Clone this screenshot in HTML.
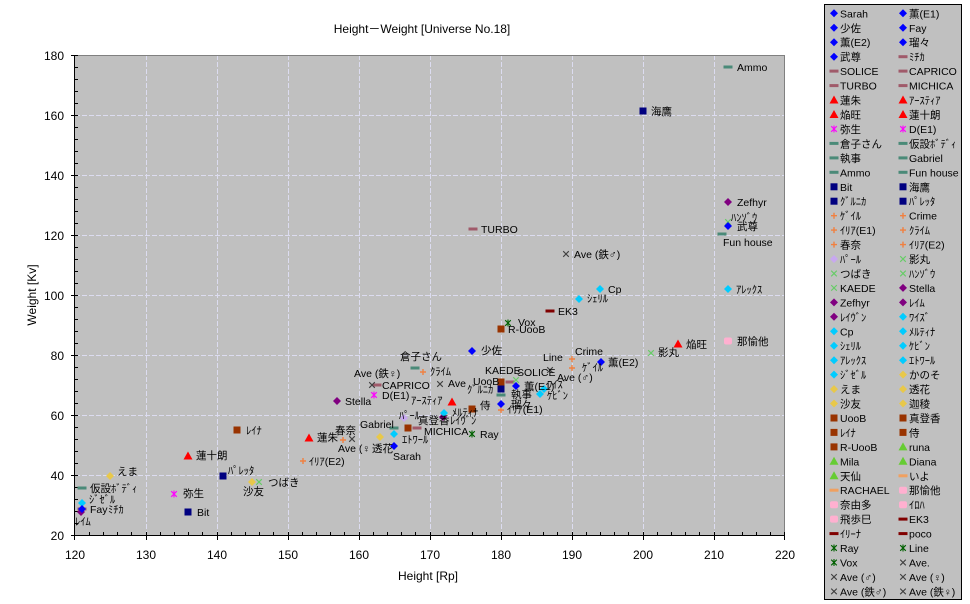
<!DOCTYPE html>
<html><head><meta charset="utf-8">
<style>
html,body{margin:0;padding:0;background:#fff;}
svg{display:block;}
text{font-family:"Liberation Sans","Noto Sans CJK JP",sans-serif;fill:#000;}
.l{font-size:10.5px;}
.g{font-size:10.5px;}
.tk{font-size:12px;}
</style></head><body>
<svg width="970" height="604" viewBox="0 0 970 604" xmlns="http://www.w3.org/2000/svg">
<defs>
<path id="d" d="M0,-4L4,0L0,4L-4,0Z"/>
<rect id="s" x="-3.5" y="-3.5" width="7" height="7"/>
<path id="t" d="M0,-4.5L4.5,3.5L-4.5,3.5Z"/>
<rect id="h" x="-4.5" y="-1.5" width="9" height="3"/>
<path id="p" d="M-3,0H3M0,-3V3" fill="none" stroke-width="1.4"/>
<path id="x" d="M-2.8,-2.8L2.8,2.8M-2.8,2.8L2.8,-2.8" fill="none" stroke-width="1.1"/>
<path id="a" d="M-2.8,-2.8L2.8,2.8M-2.8,2.8L2.8,-2.8M0,-3.5V3.5" fill="none" stroke-width="1.1"/>
<rect id="k" x="-4" y="-3.5" width="8" height="7" rx="2"/>
</defs>
<rect width="970" height="604" fill="#fff"/>
<rect x="75" y="55" width="710" height="480" fill="#c0c0c0"/>
<g stroke="#dcdcf0" stroke-width="1" stroke-dasharray="5,2">
<line x1="146.5" y1="55" x2="146.5" y2="535"/>
<line x1="217.5" y1="55" x2="217.5" y2="535"/>
<line x1="288.5" y1="55" x2="288.5" y2="535"/>
<line x1="359.5" y1="55" x2="359.5" y2="535"/>
<line x1="430.5" y1="55" x2="430.5" y2="535"/>
<line x1="501.5" y1="55" x2="501.5" y2="535"/>
<line x1="572.5" y1="55" x2="572.5" y2="535"/>
<line x1="643.5" y1="55" x2="643.5" y2="535"/>
<line x1="714.5" y1="55" x2="714.5" y2="535"/>
<line x1="75" y1="115.5" x2="785" y2="115.5"/>
<line x1="75" y1="175.5" x2="785" y2="175.5"/>
<line x1="75" y1="235.5" x2="785" y2="235.5"/>
<line x1="75" y1="295.5" x2="785" y2="295.5"/>
<line x1="75" y1="355.5" x2="785" y2="355.5"/>
<line x1="75" y1="415.5" x2="785" y2="415.5"/>
<line x1="75" y1="475.5" x2="785" y2="475.5"/>
</g>
<line x1="75" y1="55.5" x2="785" y2="55.5" stroke="#808080"/>
<line x1="784.5" y1="55" x2="784.5" y2="535" stroke="#808080"/>
<line x1="74.5" y1="55" x2="74.5" y2="536" stroke="#000"/>
<line x1="74" y1="535.5" x2="785" y2="535.5" stroke="#000"/>
<g stroke="#000" stroke-width="1">
<path d="M71,55.5H78M71,115.5H78M71,175.5H78M71,235.5H78M71,295.5H78M71,355.5H78M71,415.5H78M71,475.5H78M71,535.5H78"/>
<path d="M75,67.5H78M75,79.5H78M75,91.5H78M75,103.5H78M75,127.5H78M75,139.5H78M75,151.5H78M75,163.5H78M75,187.5H78M75,199.5H78M75,211.5H78M75,223.5H78M75,247.5H78M75,259.5H78M75,271.5H78M75,283.5H78M75,307.5H78M75,319.5H78M75,331.5H78M75,343.5H78M75,367.5H78M75,379.5H78M75,391.5H78M75,403.5H78M75,427.5H78M75,439.5H78M75,451.5H78M75,463.5H78M75,487.5H78M75,499.5H78M75,511.5H78M75,523.5H78"/>
<path d="M74.5,532V540M146.5,532V540M217.5,532V540M288.5,532V540M359.5,532V540M430.5,532V540M501.5,532V540M572.5,532V540M643.5,532V540M714.5,532V540M784.5,532V540"/>
<path d="M89.5,532V535M103.5,532V535M117.5,532V535M131.5,532V535M160.5,532V535M174.5,532V535M188.5,532V535M202.5,532V535M231.5,532V535M245.5,532V535M259.5,532V535M273.5,532V535M302.5,532V535M316.5,532V535M330.5,532V535M344.5,532V535M373.5,532V535M387.5,532V535M401.5,532V535M415.5,532V535M444.5,532V535M458.5,532V535M472.5,532V535M486.5,532V535M515.5,532V535M529.5,532V535M543.5,532V535M557.5,532V535M586.5,532V535M600.5,532V535M614.5,532V535M628.5,532V535M657.5,532V535M671.5,532V535M685.5,532V535M699.5,532V535M728.5,532V535M742.5,532V535M756.5,532V535M770.5,532V535"/>
</g>
<g class="tk" text-anchor="end">
<text x="64" y="60">180</text><text x="64" y="120">160</text><text x="64" y="180">140</text><text x="64" y="240">120</text><text x="64" y="300">100</text><text x="64" y="360">80</text><text x="64" y="420">60</text><text x="64" y="480">40</text><text x="64" y="540">20</text>
</g>
<g class="tk" text-anchor="middle">
<text x="75" y="559">120</text><text x="146" y="559">130</text><text x="217" y="559">140</text><text x="288" y="559">150</text><text x="359" y="559">160</text><text x="430" y="559">170</text><text x="501" y="559">180</text><text x="572" y="559">190</text><text x="643" y="559">200</text><text x="714" y="559">210</text><text x="785" y="559">220</text>
</g>
<text x="422" y="33" font-size="12" text-anchor="middle">Height－Weight [Universe No.18]</text>
<text x="428" y="580" font-size="12" text-anchor="middle">Height [Rp]</text>
<text transform="translate(36,295) rotate(-90)" font-size="12" text-anchor="middle">Weight [Kv]</text>

<g fill="#a05a6a"><use href="#h" x="82" y="509"/><use href="#h" x="510" y="382"/><use href="#h" x="377" y="385"/><use href="#h" x="473" y="229"/><use href="#h" x="417" y="428"/></g>
<g fill="#4a8a78"><use href="#h" x="415" y="368"/><use href="#h" x="82" y="488"/><use href="#h" x="501" y="395"/><use href="#h" x="394" y="428"/><use href="#h" x="728" y="67"/><use href="#h" x="722" y="234"/></g>
<g fill="#800000"><use href="#h" x="550" y="311"/></g>
<g fill="#ffb0d0"><use href="#k" x="728" y="341"/></g>
<g fill="#000080"><use href="#s" x="188" y="512"/><use href="#s" x="643" y="111"/><use href="#s" x="501" y="389"/><use href="#s" x="223" y="476"/></g>
<g fill="#993300"><use href="#s" x="501" y="382"/><use href="#s" x="408" y="428"/><use href="#s" x="237" y="430"/><use href="#s" x="472" y="409"/><use href="#s" x="501" y="329"/></g>
<g fill="#ff0000"><use href="#t" x="309" y="438"/><use href="#t" x="452" y="402"/><use href="#t" x="678" y="344"/><use href="#t" x="188" y="456"/></g>
<g stroke="#f08040"><use href="#p" x="572" y="368"/><use href="#p" x="572" y="359"/><use href="#p" x="501" y="410"/><use href="#p" x="423" y="372"/><use href="#p" x="343" y="440"/><use href="#p" x="303" y="461"/></g>
<g stroke="#ff00ff"><use href="#a" x="174" y="494"/><use href="#a" x="374" y="395"/></g>
<g stroke="#006000"><use href="#a" x="472" y="434"/><use href="#a" x="508" y="323"/></g>
<g stroke="#66cc66"><use href="#x" x="651" y="353"/><use href="#x" x="259" y="482"/><use href="#x" x="728" y="222"/><use href="#x" x="516" y="380"/></g>
<g stroke="#404040"><use href="#x" x="440" y="384"/><use href="#x" x="550" y="370"/><use href="#x" x="352" y="439"/><use href="#x" x="566" y="254"/><use href="#x" x="372" y="385"/></g>
<g fill="#e8c84a"><use href="#d" x="110" y="476"/><use href="#d" x="380" y="437"/><use href="#d" x="252" y="482"/></g>
<g fill="#c8a8f0"><use href="#d" x="404" y="418"/></g>
<g fill="#800080"><use href="#d" x="337" y="401"/><use href="#d" x="728" y="202"/><use href="#d" x="81" y="512"/><use href="#d" x="443" y="417"/></g>
<g fill="#00ccff"><use href="#d" x="544" y="389"/><use href="#d" x="600" y="289"/><use href="#d" x="444" y="413"/><use href="#d" x="579" y="299"/><use href="#d" x="540" y="394"/><use href="#d" x="728" y="289"/><use href="#d" x="394" y="434"/><use href="#d" x="82" y="503"/></g>
<g fill="#0000ff"><use href="#d" x="394" y="446"/><use href="#d" x="516" y="386"/><use href="#d" x="472" y="351"/><use href="#d" x="82" y="509"/><use href="#d" x="601" y="362"/><use href="#d" x="501" y="404"/><use href="#d" x="728" y="226"/></g>

<g class="g">
<text x="737" y="71">Ammo</text>
<text x="651" y="115">海鷹</text>
<text x="737" y="206">Zefhyr</text>
<text x="731" y="221">ﾊﾝｿﾞｳ</text>
<text x="737" y="230">武尊</text>
<text x="481" y="233">TURBO</text>
<text x="723" y="246">Fun house</text>
<text x="574" y="258">Ave (鉄♂)</text>
<text x="608" y="293">Cp</text>
<text x="736" y="293">ｱﾚｯｸｽ</text>
<text x="587" y="302">ｼｪﾘﾙ</text>
<text x="558" y="315">EK3</text>
<text x="518" y="326">Vox</text>
<text x="508" y="333">R-UooB</text>
<text x="737" y="345">那愉他</text>
<text x="686" y="348">焔旺</text>
<text x="481" y="354">少佐</text>
<text x="658" y="356">影丸</text>
<text x="543" y="361">Line</text>
<text x="575" y="355">Crime</text>
<text x="400" y="360">倉子さん</text>
<text x="608" y="366">薫(E2)</text>
<text x="582" y="371">ｹﾞｲﾙ</text>
<text x="485" y="374">KAEDE</text>
<text x="517" y="376">SOLICE</text>
<text x="430" y="375">ｸﾗｲﾑ</text>
<text x="354" y="377">Ave (鉄♀)</text>
<text x="557" y="381">Ave (♂)</text>
<text x="473" y="385">UooB</text>
<text x="448" y="387">Ave</text>
<text x="382" y="389">CAPRICO</text>
<text x="524" y="390">薫(E1)</text>
<text x="547" y="388">ﾜｲｽﾞ</text>
<text x="467" y="393">ｸﾞﾙﾆｶ</text>
<text x="382" y="399">D(E1)</text>
<text x="511" y="398">執事</text>
<text x="547" y="399">ｹﾋﾞﾝ</text>
<text x="345" y="405">Stella</text>
<text x="411" y="404">ｱｰｽﾃｨｱ</text>
<text x="511" y="408">瑠々</text>
<text x="480" y="409">侍</text>
<text x="507" y="413">ｲﾘｱ(E1)</text>
<text x="452" y="416">ﾒﾙﾃｨﾅ</text>
<text x="399" y="419">ﾊﾟｰﾙ</text>
<text x="418" y="424">真登香</text>
<text x="450" y="424">ﾚｲｳﾞﾝ</text>
<text x="360" y="428">Gabriel</text>
<text x="246" y="434">ﾚｲﾅ</text>
<text x="335" y="434">春奈</text>
<text x="424" y="435">MICHICA</text>
<text x="480" y="438">Ray</text>
<text x="317" y="441">蓮朱</text>
<text x="402" y="443">ｴﾄﾜｰﾙ</text>
<text x="338" y="452">Ave (♀</text>
<text x="372" y="452">透花</text>
<text x="393" y="460">Sarah</text>
<text x="196" y="459">蓮十朗</text>
<text x="309" y="465">ｲﾘｱ(E2)</text>
<text x="117" y="475">えま</text>
<text x="228" y="474">ﾊﾟﾚｯﾀ</text>
<text x="268" y="486">つばき</text>
<text x="90" y="492">仮設ﾎﾞﾃﾞｨ</text>
<text x="243" y="495">沙友</text>
<text x="183" y="497">弥生</text>
<text x="89" y="503">ｼﾞｾﾞﾙ</text>
<text x="90" y="513">Fay</text>
<text x="108" y="513">ﾐﾁｶ</text>
<text x="197" y="516">Bit</text>
<text x="75" y="525">ﾚｲﾑ</text>
</g>

<rect x="824.5" y="4.5" width="137" height="595" fill="#c0c0c0" stroke="#000"/>
<g>
<g fill="#0000ff">
<use href="#d" x="834" y="13.3"/><use href="#d" x="903" y="13.3"/>
<use href="#d" x="834" y="27.8"/><use href="#d" x="903" y="27.8"/>
<use href="#d" x="834" y="42.2"/><use href="#d" x="903" y="42.2"/>
<use href="#d" x="834" y="56.7"/>
</g>
<g fill="#a05a6a">
<use href="#h" x="903" y="56.7"/>
<use href="#h" x="834" y="71.1"/><use href="#h" x="903" y="71.1"/>
<use href="#h" x="834" y="85.6"/><use href="#h" x="903" y="85.6"/>
</g>
<g fill="#ff0000">
<use href="#t" x="834" y="100"/><use href="#t" x="903" y="100"/>
<use href="#t" x="834" y="114.5"/><use href="#t" x="903" y="114.5"/>
</g>
<g stroke="#ff00ff"><use href="#a" x="834" y="129"/><use href="#a" x="903" y="129"/></g>
<g fill="#4a8a78">
<use href="#h" x="834" y="143.4"/><use href="#h" x="903" y="143.4"/>
<use href="#h" x="834" y="157.9"/><use href="#h" x="903" y="157.9"/>
<use href="#h" x="834" y="172.3"/><use href="#h" x="903" y="172.3"/>
</g>
<g fill="#000080">
<use href="#s" x="834" y="186.8"/><use href="#s" x="903" y="186.8"/>
<use href="#s" x="834" y="201.2"/><use href="#s" x="903" y="201.2"/>
</g>
<g stroke="#f08040">
<use href="#p" x="834" y="215.7"/><use href="#p" x="903" y="215.7"/>
<use href="#p" x="834" y="230.1"/><use href="#p" x="903" y="230.1"/>
<use href="#p" x="834" y="244.6"/><use href="#p" x="903" y="244.6"/>
</g>
<g fill="#c8a8f0"><use href="#d" x="834" y="259"/></g>
<g stroke="#66cc66">
<use href="#x" x="903" y="259"/>
<use href="#x" x="834" y="273.5"/><use href="#x" x="903" y="273.5"/>
<use href="#x" x="834" y="287.9"/>
</g>
<g fill="#800080">
<use href="#d" x="903" y="287.9"/>
<use href="#d" x="834" y="302.4"/><use href="#d" x="903" y="302.4"/>
<use href="#d" x="834" y="316.8"/>
</g>
<g fill="#00ccff">
<use href="#d" x="903" y="316.8"/>
<use href="#d" x="834" y="331.3"/><use href="#d" x="903" y="331.3"/>
<use href="#d" x="834" y="345.7"/><use href="#d" x="903" y="345.7"/>
<use href="#d" x="834" y="360.2"/><use href="#d" x="903" y="360.2"/>
<use href="#d" x="834" y="374.6"/>
</g>
<g fill="#e8c84a">
<use href="#d" x="903" y="374.6"/>
<use href="#d" x="834" y="389.1"/><use href="#d" x="903" y="389.1"/>
<use href="#d" x="834" y="403.5"/><use href="#d" x="903" y="403.5"/>
</g>
<g fill="#993300">
<use href="#s" x="834" y="418"/><use href="#s" x="903" y="418"/>
<use href="#s" x="834" y="432.4"/><use href="#s" x="903" y="432.4"/>
<use href="#s" x="834" y="446.9"/>
</g>
<g fill="#66cc33">
<use href="#t" x="903" y="446.9"/>
<use href="#t" x="834" y="461.3"/><use href="#t" x="903" y="461.3"/>
<use href="#t" x="834" y="475.8"/>
</g>
<g fill="#f0a060"><use href="#h" x="903" y="475.8"/><use href="#h" x="834" y="490.2"/></g>
<g fill="#ffb0d0">
<use href="#k" x="903" y="490.2"/>
<use href="#k" x="834" y="504.7"/><use href="#k" x="903" y="504.7"/>
<use href="#k" x="834" y="519.1"/>
</g>
<g fill="#800000">
<use href="#h" x="903" y="519.1"/>
<use href="#h" x="834" y="533.6"/><use href="#h" x="903" y="533.6"/>
</g>
<g stroke="#006000">
<use href="#a" x="834" y="548"/><use href="#a" x="903" y="548"/>
<use href="#a" x="834" y="562.5"/>
</g>
<g stroke="#404040">
<use href="#x" x="903" y="562.5"/>
<use href="#x" x="834" y="576.9"/><use href="#x" x="903" y="576.9"/>
<use href="#x" x="834" y="591.4"/><use href="#x" x="903" y="591.4"/>
</g>
</g>
<g class="l">
<text x="840" y="17.3">Sarah</text><text x="909" y="17.3">薫(E1)</text>
<text x="840" y="31.8">少佐</text><text x="909" y="31.8">Fay</text>
<text x="840" y="46.2">薫(E2)</text><text x="909" y="46.2">瑠々</text>
<text x="840" y="60.7">武尊</text><text x="909" y="60.7">ﾐﾁｶ</text>
<text x="840" y="75.1">SOLICE</text><text x="909" y="75.1">CAPRICO</text>
<text x="840" y="89.6">TURBO</text><text x="909" y="89.6">MICHICA</text>
<text x="840" y="104">蓮朱</text><text x="909" y="104">ｱｰｽﾃｨｱ</text>
<text x="840" y="118.5">焔旺</text><text x="909" y="118.5">蓮十朗</text>
<text x="840" y="133">弥生</text><text x="909" y="133">D(E1)</text>
<text x="840" y="147.4">倉子さん</text><text x="909" y="147.4">仮設ﾎﾞﾃﾞｨ</text>
<text x="840" y="161.9">執事</text><text x="909" y="161.9">Gabriel</text>
<text x="840" y="176.3">Ammo</text><text x="909" y="176.3">Fun house</text>
<text x="840" y="190.8">Bit</text><text x="909" y="190.8">海鷹</text>
<text x="840" y="205.2">ｸﾞﾙﾆｶ</text><text x="909" y="205.2">ﾊﾟﾚｯﾀ</text>
<text x="840" y="219.7">ｹﾞｲﾙ</text><text x="909" y="219.7">Crime</text>
<text x="840" y="234.1">ｲﾘｱ(E1)</text><text x="909" y="234.1">ｸﾗｲﾑ</text>
<text x="840" y="248.6">春奈</text><text x="909" y="248.6">ｲﾘｱ(E2)</text>
<text x="840" y="263">ﾊﾟｰﾙ</text><text x="909" y="263">影丸</text>
<text x="840" y="277.5">つばき</text><text x="909" y="277.5">ﾊﾝｿﾞｳ</text>
<text x="840" y="291.9">KAEDE</text><text x="909" y="291.9">Stella</text>
<text x="840" y="306.4">Zefhyr</text><text x="909" y="306.4">ﾚｲﾑ</text>
<text x="840" y="320.8">ﾚｲｳﾞﾝ</text><text x="909" y="320.8">ﾜｲｽﾞ</text>
<text x="840" y="335.3">Cp</text><text x="909" y="335.3">ﾒﾙﾃｨﾅ</text>
<text x="840" y="349.7">ｼｪﾘﾙ</text><text x="909" y="349.7">ｹﾋﾞﾝ</text>
<text x="840" y="364.2">ｱﾚｯｸｽ</text><text x="909" y="364.2">ｴﾄﾜｰﾙ</text>
<text x="840" y="378.6">ｼﾞｾﾞﾙ</text><text x="909" y="378.6">かのそ</text>
<text x="840" y="393.1">えま</text><text x="909" y="393.1">透花</text>
<text x="840" y="407.5">沙友</text><text x="909" y="407.5">迦稜</text>
<text x="840" y="422">UooB</text><text x="909" y="422">真登香</text>
<text x="840" y="436.4">ﾚｲﾅ</text><text x="909" y="436.4">侍</text>
<text x="840" y="450.9">R-UooB</text><text x="909" y="450.9">runa</text>
<text x="840" y="465.3">Mila</text><text x="909" y="465.3">Diana</text>
<text x="840" y="479.8">天仙</text><text x="909" y="479.8">いよ</text>
<text x="840" y="494.2">RACHAEL</text><text x="909" y="494.2">那愉他</text>
<text x="840" y="508.7">奈由多</text><text x="909" y="508.7">ｲﾛﾊ</text>
<text x="840" y="523.1">飛歩巳</text><text x="909" y="523.1">EK3</text>
<text x="840" y="537.6">ｲﾘｰﾅ</text><text x="909" y="537.6">poco</text>
<text x="840" y="552">Ray</text><text x="909" y="552">Line</text>
<text x="840" y="566.5">Vox</text><text x="909" y="566.5">Ave.</text>
<text x="840" y="580.9">Ave (♂)</text><text x="909" y="580.9">Ave (♀)</text>
<text x="840" y="595.4">Ave (鉄♂)</text><text x="909" y="595.4">Ave (鉄♀)</text>
</g>
</svg>
</body></html>
